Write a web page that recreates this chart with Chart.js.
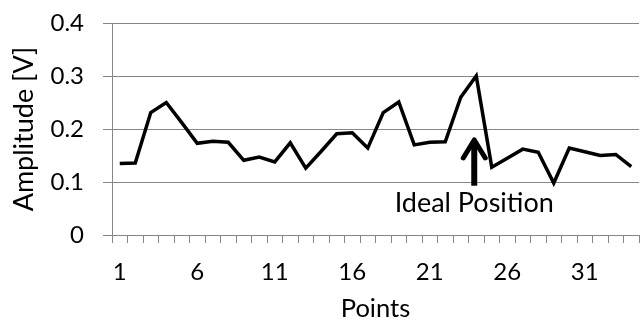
<!DOCTYPE html>
<html>
<head>
<meta charset="utf-8">
<script src="https://cdn.jsdelivr.net/npm/chart.js@4/dist/chart.umd.min.js"></script>
<style>
  html, body { margin: 0; padding: 0; background: #fff; }
  #wrap { width: 644px; height: 324px; }
</style>
</head>
<body>
<div id="wrap"><canvas id="chart" width="644" height="324"></canvas></div>
<script>
// categories on the x axis
const points = [1, 2, 3, 4, 5, 6, 7, 8, 9, 10, 11, 12, 13, 14, 15, 16, 17,
                18, 19, 20, 21, 22, 23, 24, 25, 26, 27, 28, 29, 30, 31, 32, 33, 34];
// measured amplitude, volts
const amplitude = [0.135, 0.136, 0.231, 0.250, 0.212, 0.173, 0.177, 0.175, 0.141, 0.147,
                   0.138, 0.174, 0.126, 0.158, 0.191, 0.193, 0.164, 0.231, 0.251, 0.170,
                   0.175, 0.176, 0.260, 0.300, 0.128, 0.145, 0.162, 0.156, 0.098, 0.164,
                   0.157, 0.150, 0.152, 0.129];
// annotation
const idealIndex = 23;
const idealLabel = 'Ideal Position';

const font = 'Lato';
const gridGray = '#868686';

// draws the arrow + text under the peak
const idealArrow = {
    id: 'idealArrow',
    afterDatasetsDraw(chart) {
        const c = chart.ctx;
        const xs = chart.scales.x, ys = chart.scales.y;
        const x = xs.getPixelForValue(idealIndex) - 2;
        const tip = ys.getPixelForValue(0.185);
        const bottom = ys.getPixelForValue(0.093);
        c.save();
        c.strokeStyle = '#000';
        c.lineWidth = 6;
        c.beginPath();
        c.moveTo(x, bottom);
        c.lineTo(x, tip + 4);
        c.stroke();
        c.lineWidth = 5;
        c.lineCap = 'round';
        c.lineJoin = 'round';
        c.beginPath();
        c.moveTo(x - 11, tip + 21);
        c.lineTo(x, tip + 3);
        c.lineTo(x + 11, tip + 21);
        c.stroke();
        c.fillStyle = '#000';
        c.font = '27px ' + font;
        c.textAlign = 'center';
        c.textBaseline = 'alphabetic';
        c.fillText(idealLabel, x, ys.getPixelForValue(0.044));
        c.restore();
    }
};

new Chart(document.getElementById('chart'), {
    type: 'line',
    data: {
        labels: points,
        datasets: [{
            data: amplitude,
            borderColor: '#000',
            borderWidth: 3.5,
            pointRadius: 0,
            tension: 0,
            fill: false
        }]
    },
    options: {
        responsive: false,
        animation: false,
        events: [],
        layout: { padding: { left: 0, right: 5, top: 23, bottom: 0 } },
        plugins: { legend: { display: false }, tooltip: { enabled: false } },
        scales: {
            x: {
                offset: true,
                grid: {
                    offset: true,
                    drawOnChartArea: false,
                    drawTicks: true,
                    tickLength: 8,
                    color: gridGray
                },
                border: { color: gridGray },
                ticks: {
                    autoSkip: false,
                    maxRotation: 0,
                    padding: 15,
                    color: '#000',
                    font: { family: font, size: 24 },
                    callback: function(val, i) { return i % 5 === 0 ? this.getLabelForValue(val) : ''; }
                },
                title: {
                    display: true,
                    text: 'Points',
                    color: '#000',
                    font: { family: font, size: 25.5 },
                    padding: { top: 0, bottom: 0 }
                },
                afterFit(scale) {
                    scale.height = 89;
                    scale.paddingLeft = 0;
                    scale.paddingRight = 0;
                }
            },
            y: {
                min: 0,
                max: 0.4,
                ticks: {
                    stepSize: 0.1,
                    padding: 19,
                    color: '#000',
                    font: { family: font, size: 24 }
                },
                grid: { color: gridGray, tickLength: 9 },
                border: { color: gridGray },
                title: {
                    display: true,
                    text: 'Amplitude [V]',
                    color: '#000',
                    font: { family: font, size: 27 },
                    padding: { top: 8, bottom: 0 }
                },
                afterFit(scale) {
                    scale.width = 112;
                    scale.paddingTop = 0;
                    scale.paddingBottom = 0;
                }
            }
        }
    },
    plugins: [idealArrow]
});
</script>
</body>
</html>
